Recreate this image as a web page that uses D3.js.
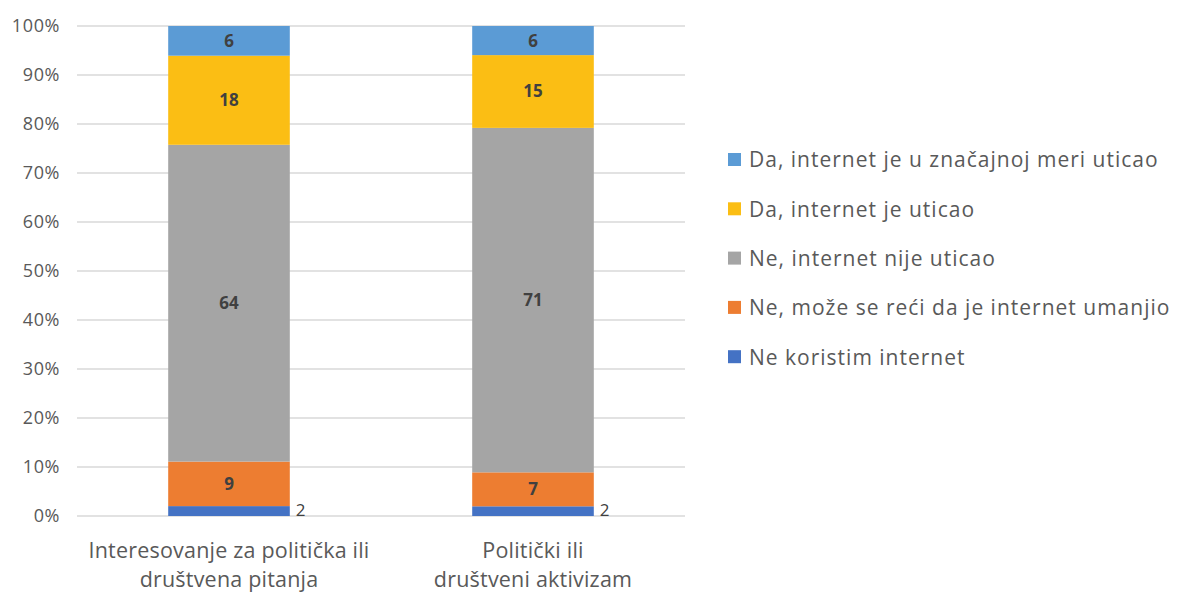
<!DOCTYPE html>
<html><head><meta charset="utf-8">
<script src="https://cdn.jsdelivr.net/npm/d3@7"></script>
<style>body{margin:0;background:#fff}svg{display:block}</style>
</head><body><svg id="c" width="1179" height="593"></svg>
<script>
const categories = [["Interesovanje za politička ili","društvena pitanja"],["Politički ili","društveni aktivizam"]];
const seriesNames = ["Ne koristim internet","Ne, može se reći da je internet umanjio","Ne, internet nije uticao","Da, internet je uticao","Da, internet je u značajnoj meri uticao"];
const seriesColors = ["#4472C4","#ED7D31","#A5A5A5","#FBBE14","#5B9BD5"];
const notUsing = [2,2];
const decreased = [9,7];
const noEffect = [64,71];
const affected = [18,15];
const stronglyAffected = [6,6];
const yTicks = [0,10,20,30,40,50,60,70,80,90,100];

(function(){
const values = [notUsing, decreased, noEffect, affected, stronglyAffected];
const font = "'Open Sans', 'Liberation Sans', sans-serif";
const svg = d3.select("#c");
const mLeft = 77, mRight = 685, mTop = 26, mBottom = 516;
const x = d3.scaleBand().domain(d3.range(categories.length)).range([mLeft, mRight]).paddingInner(0.6).paddingOuter(0.3);
const y = d3.scaleLinear().domain([0,100]).range([mBottom, mTop]);

svg.append("g").selectAll("line").data(yTicks).join("line")
  .attr("x1", mLeft).attr("x2", mRight).attr("y1", d=>y(d)).attr("y2", d=>y(d))
  .attr("stroke", "#d9d9d9").attr("stroke-width", 1.5);
svg.append("g").selectAll("text").data(yTicks).join("text")
  .attr("x", 60).attr("y", d=>y(d)).attr("dy","0.35em").attr("text-anchor","end")
  .attr("font-family", font).attr("font-size", 18).attr("letter-spacing", 0.6).attr("fill","#595959")
  .text(d=>d+"%");

const data = categories.map((c,i)=>{
  const o = {i};
  seriesNames.forEach((s,k)=>o[k]=values[k][i]);
  return o;
});
const stack = d3.stack().keys(d3.range(seriesNames.length)).offset(d3.stackOffsetExpand);
const layers = stack(data);
const bw = x.bandwidth();
layers.forEach((layer,k)=>{
  const g = svg.append("g");
  g.selectAll("rect").data(layer).join("rect")
    .attr("x", d=>x(d.data.i)).attr("width", bw)
    .attr("y", d=>y(d[1]*100)).attr("height", d=>y(d[0]*100)-y(d[1]*100))
    .attr("fill", seriesColors[k]);
  g.selectAll("text").data(layer).join("text")
    .attr("x", d=> k===0 ? x(d.data.i)+bw+6 : x(d.data.i)+bw/2)
    .attr("y", d=> k===0 ? y(d[0]*100)-6 : y((d[0]+d[1])*50))
    .attr("dy","0.35em")
    .attr("text-anchor", k===0 ? "start" : "middle")
    .attr("font-family", font).attr("font-size", 17)
    .attr("font-weight", k===0 ? "normal" : "bold")
    .attr("fill", "#404040")
    .text((d,j)=>values[k][j]);
});

categories.forEach((c,i)=>{
  const t = svg.append("text").attr("text-anchor","middle")
    .attr("font-family", font).attr("font-size", 21.5).attr("letter-spacing", 0.2).attr("fill","#595959");
  c.forEach((line,j)=>t.append("tspan").attr("x", x(i)+bw/2).attr("y", 558+j*29).text(line));
});

const legendOrder = d3.range(seriesNames.length).reverse();
const lg = svg.append("g");
legendOrder.forEach((k,r)=>{
  const yy = 160 + r*49.3;
  lg.append("rect").attr("x",728).attr("y",yy-7).attr("width",13).attr("height",13).attr("fill",seriesColors[k]);
  lg.append("text").attr("x",749).attr("y",yy).attr("dy","0.35em")
    .attr("font-family", font).attr("font-size", 21).attr("letter-spacing", 1).attr("fill","#595959").text(seriesNames[k]);
});
})();
</script></body></html>
